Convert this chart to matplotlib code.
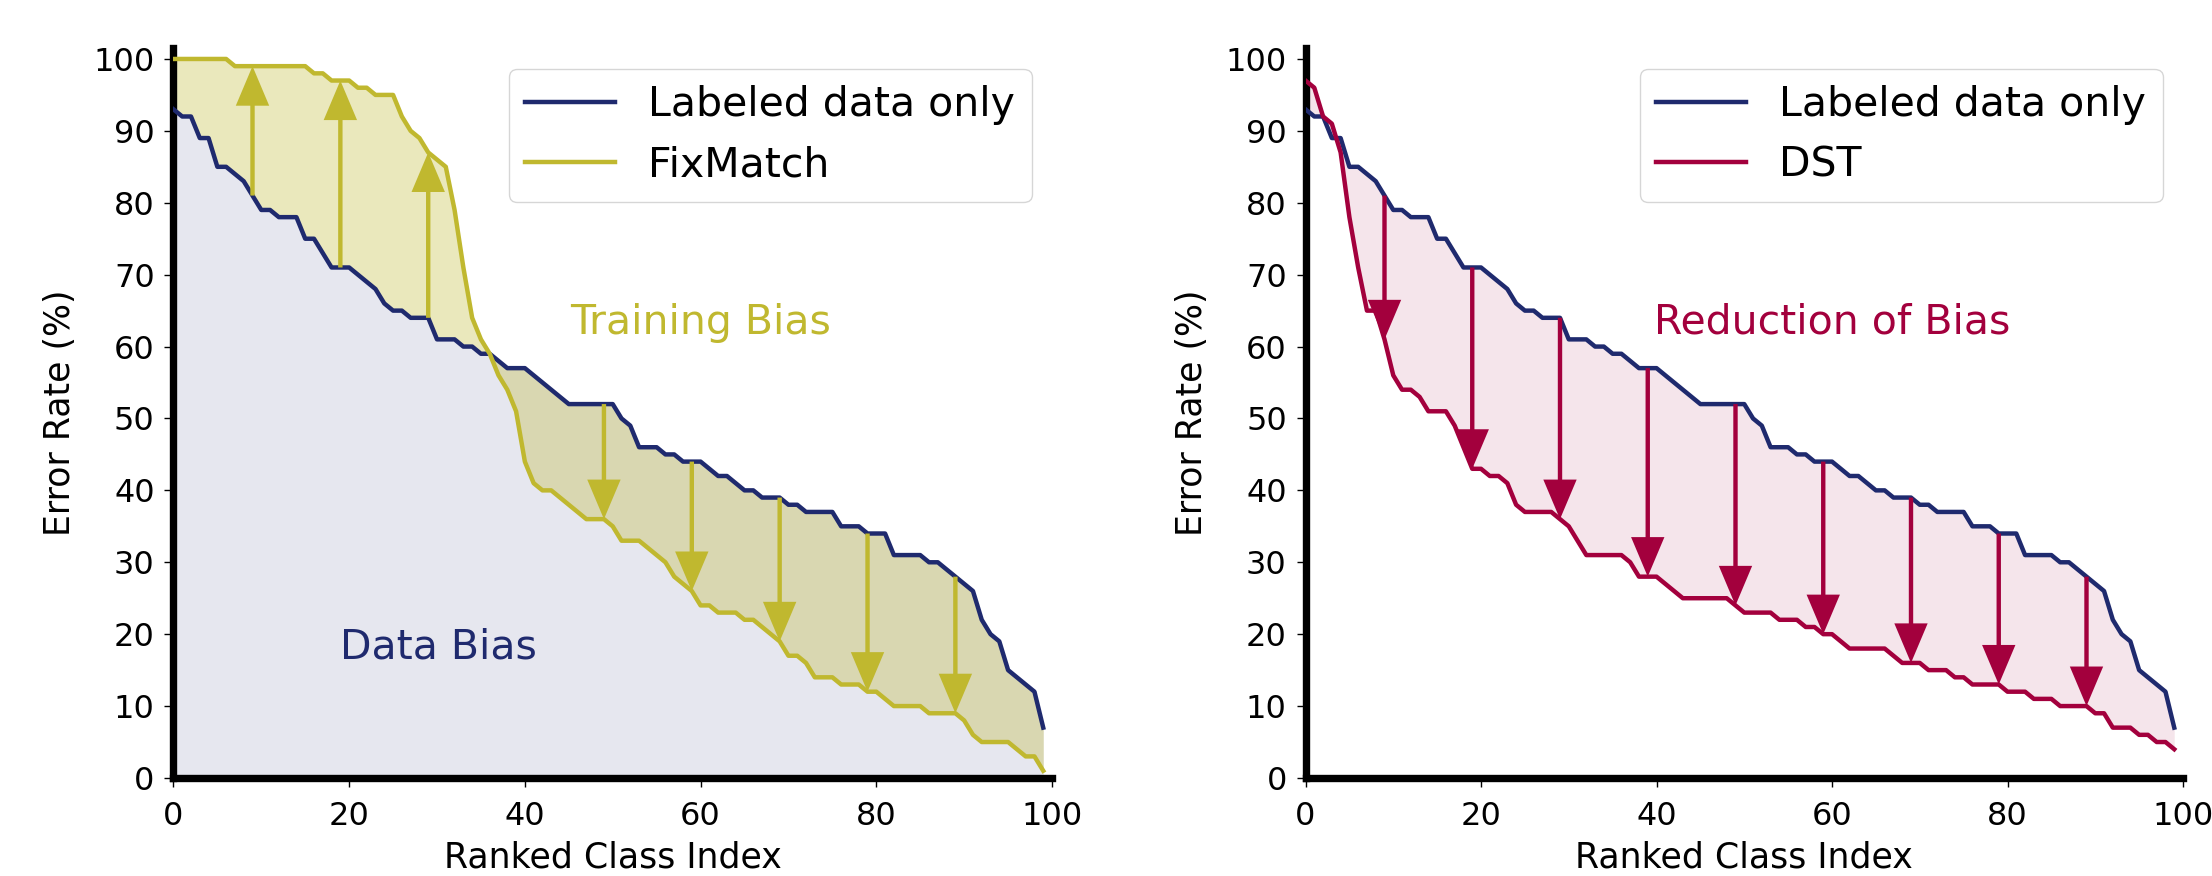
import matplotlib
matplotlib.use("Agg")
import matplotlib.pyplot as plt
import numpy as np

# ---------------- data ----------------
class_index = list(range(100))

labeled_only = [93, 92, 92, 89, 89, 85, 85, 84, 83, 81,
                79, 79, 78, 78, 78, 75, 75, 73, 71, 71,
                71, 70, 69, 68, 66, 65, 65, 64, 64, 64,
                61, 61, 61, 60, 60, 59, 59, 58, 57, 57,
                57, 56, 55, 54, 53, 52, 52, 52, 52, 52,
                52, 50, 49, 46, 46, 46, 45, 45, 44, 44,
                44, 43, 42, 42, 41, 40, 40, 39, 39, 39,
                38, 38, 37, 37, 37, 37, 35, 35, 35, 34,
                34, 34, 31, 31, 31, 31, 30, 30, 29, 28,
                27, 26, 22, 20, 19, 15, 14, 13, 12, 7]

fixmatch = [100, 100, 100, 100, 100, 100, 100, 99, 99, 99,
            99, 99, 99, 99, 99, 99, 98, 98, 97, 97,
            97, 96, 96, 95, 95, 95, 92, 90, 89, 87,
            86, 85, 79, 71, 64, 61, 59, 56, 54, 51,
            44, 41, 40, 40, 39, 38, 37, 36, 36, 36,
            35, 33, 33, 33, 32, 31, 30, 28, 27, 26,
            24, 24, 23, 23, 23, 22, 22, 21, 20, 19,
            17, 17, 16, 14, 14, 14, 13, 13, 13, 12,
            12, 11, 10, 10, 10, 10, 9, 9, 9, 9,
            8, 6, 5, 5, 5, 5, 4, 3, 3, 1]

dst = [97, 96, 92, 91, 87, 78, 71, 65, 65, 61,
       56, 54, 54, 53, 51, 51, 51, 49, 46, 43,
       43, 42, 42, 41, 38, 37, 37, 37, 37, 36,
       35, 33, 31, 31, 31, 31, 31, 30, 28, 28,
       28, 27, 26, 25, 25, 25, 25, 25, 25, 24,
       23, 23, 23, 23, 22, 22, 22, 21, 21, 20,
       20, 19, 18, 18, 18, 18, 18, 17, 16, 16,
       16, 15, 15, 15, 14, 14, 13, 13, 13, 13,
       12, 12, 12, 11, 11, 11, 10, 10, 10, 10,
       9, 9, 7, 7, 7, 6, 6, 5, 5, 4]

left_up_arrows = [9, 19, 29]
left_down_arrows = [49, 59, 69, 79, 89]
right_arrows = [9, 19, 29, 39, 49, 59, 69, 79, 89]

x_ticks = [0, 20, 40, 60, 80, 100]
y_ticks = [0, 10, 20, 30, 40, 50, 60, 70, 80, 90, 100]

NAVY = "#1f2a6e"
YELLOW = "#c0b82f"
CRIMSON = "#a3003d"

# ---------------- figure ----------------
fig = plt.figure(figsize=(22.12, 8.76), dpi=100)
ax1 = fig.add_axes([0.0784, 0.1119, 0.3972, 0.8331])
ax2 = fig.add_axes([0.5902, 0.1119, 0.3967, 0.8331])

x = np.array(class_index)
base = np.array(labeled_only)
fm = np.array(fixmatch)
ds = np.array(dst)


def style_axes(ax):
    ax.set_xlim(0, 100)
    ax.set_ylim(0, 101.5)
    ax.set_xticks(x_ticks)
    ax.set_yticks(y_ticks)
    for s in ["top", "right"]:
        ax.spines[s].set_visible(False)
    for s in ["left", "bottom"]:
        ax.spines[s].set_linewidth(5.3)
        ax.spines[s].set_color("black")
    ax.tick_params(axis="both", direction="out", length=6.5, width=1.0,
                   labelsize=23)
    ax.tick_params(axis="x", pad=10)
    ax.tick_params(axis="y", pad=7)
    ax.set_xlabel("Ranked Class Index", fontsize=25, labelpad=6)
    ax.set_ylabel("Error Rate (%)", fontsize=25, labelpad=12)


def draw_arrow(ax, xi, y_from, y_to, color):
    ax.arrow(xi, y_from, 0, y_to - y_from, width=0.5, head_width=3.8,
             head_length=5.5, length_includes_head=True, color=color,
             lw=0, zorder=4)


# Left panel
ax1.fill_between(x, 0, base, color=NAVY, alpha=0.11, lw=0, zorder=1)
ax1.fill_between(x, base, fm, color=YELLOW, alpha=0.32, lw=0, zorder=2)
ax1.plot(x, base, color=NAVY, lw=3.2, label="Labeled data only", zorder=3)
ax1.plot(x, fm, color=YELLOW, lw=3.2, label="FixMatch", zorder=3)
for i in left_up_arrows + left_down_arrows:
    draw_arrow(ax1, x[i], base[i], fm[i], YELLOW)
ax1.text(60, 63.3, "Training Bias", color=YELLOW, fontsize=29.5,
         ha="center", va="center")
ax1.text(30.2, 18.2, "Data Bias", color=NAVY, fontsize=29.5,
         ha="center", va="center")
style_axes(ax1)
ax1.legend(loc="upper right", fontsize=29.5, handlelength=2.2)

# Right panel
ax2.fill_between(x, base, ds, color=CRIMSON, alpha=0.1, lw=0, zorder=1)
ax2.plot(x, base, color=NAVY, lw=3.2, label="Labeled data only", zorder=3)
ax2.plot(x, ds, color=CRIMSON, lw=3.2, label="DST", zorder=3)
for i in right_arrows:
    draw_arrow(ax2, x[i], base[i], ds[i], CRIMSON)
ax2.text(60, 63.3, "Reduction of Bias", color=CRIMSON, fontsize=29.5,
         ha="center", va="center")
style_axes(ax2)
ax2.legend(loc="upper right", fontsize=29.5, handlelength=2.2)

fig.savefig("out.png", dpi=100)
